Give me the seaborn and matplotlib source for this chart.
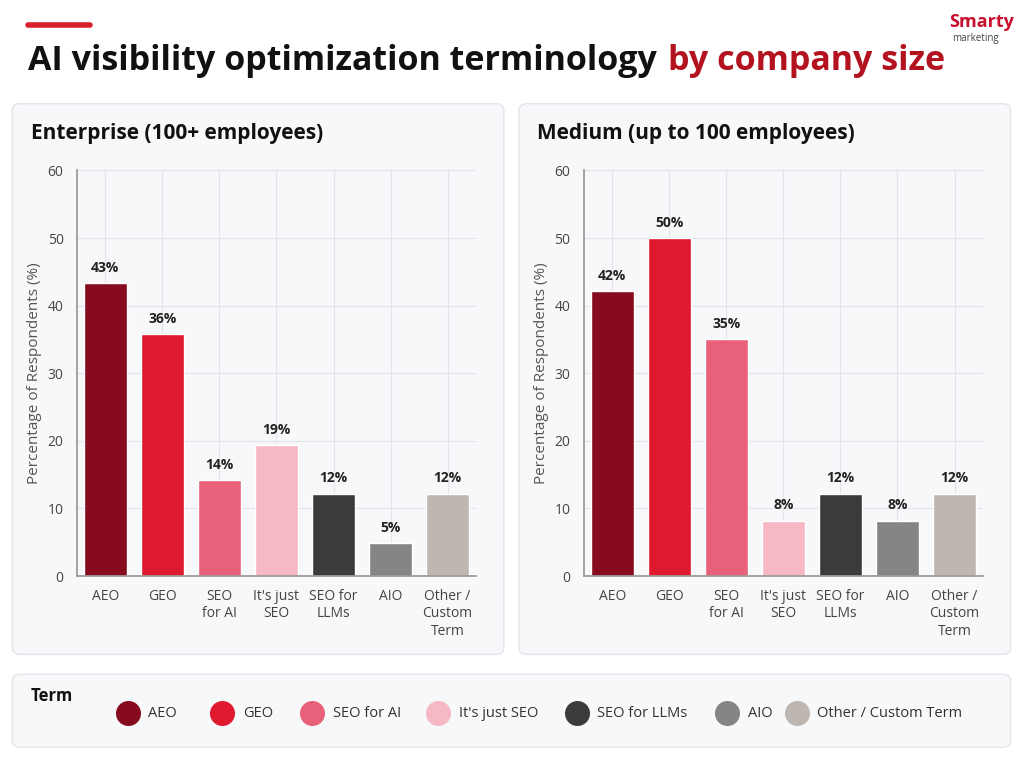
import matplotlib
matplotlib.use("Agg")
import matplotlib.pyplot as plt
import seaborn as sns
import pandas as pd
from matplotlib.patches import FancyBboxPatch

terms = ["AEO", "GEO", "SEO for AI", "It's just SEO", "SEO for LLMs", "AIO", "Other / Custom Term"]
tick_labels = ["AEO", "GEO", "SEO\nfor AI", "It's just\nSEO", "SEO for\nLLMs", "AIO", "Other /\nCustom\nTerm"]
enterprise = [43.3, 35.8, 14.2, 19.4, 12.2, 4.9, 12.2]
enterprise_lbl = ["43%", "36%", "14%", "19%", "12%", "5%", "12%"]
medium = [42.2, 50.0, 35.0, 8.2, 12.2, 8.2, 12.2]
medium_lbl = ["42%", "50%", "35%", "8%", "12%", "8%", "12%"]
colors = ["#870B1F", "#DF1A2E", "#E8607A", "#F6B8C4", "#3B3B3B", "#858585", "#BEB6B0"]

sns.set_theme(style="whitegrid")
plt.rcParams['font.family'] = ['Open Sans', 'DejaVu Sans']

fig = plt.figure(figsize=(10.24, 7.68), dpi=100)
fig.patch.set_facecolor("white")

# header
fig.add_artist(plt.Line2D([0.027, 0.088], [0.967, 0.967], color="#D81F2A", lw=4))
t1 = fig.text(0.027, 0.92, "AI visibility optimization terminology", fontsize=24.5, fontweight="bold",
              color="#111111", va="center")
fig.canvas.draw()
bb = t1.get_window_extent().transformed(fig.transFigure.inverted())
fig.text(bb.x1 + 0.011, 0.92, "by company size", fontsize=24.5, fontweight="bold", color="#B3121F", va="center")
fig.text(0.99, 0.972, "Smarty", fontsize=13, fontweight="bold", color="#C8102E", va="center", ha="right")
fig.text(0.975, 0.950, "marketing", fontsize=7, color="#444444", va="center", ha="right")

# panel backgrounds
for x0 in [0.012, 0.507]:
    fig.add_artist(FancyBboxPatch((x0, 0.148), 0.48, 0.717, boxstyle="round,pad=0,rounding_size=0.008",
                                  transform=fig.transFigure, fc="#F7F8FA", ec="#E3E5EA", lw=1, zorder=-1))
fig.add_artist(FancyBboxPatch((0.012, 0.027), 0.975, 0.095, boxstyle="round,pad=0,rounding_size=0.008",
                              transform=fig.transFigure, fc="#F7F8FA", ec="#E3E5EA", lw=1, zorder=-1))

panels = [("Enterprise (100+ employees)", enterprise, enterprise_lbl, 0.075, 0.03),
          ("Medium (up to 100 employees)", medium, medium_lbl, 0.570, 0.524)]
for title, vals, lbls, ax_x, tx in panels:
    ax = fig.add_axes([ax_x, 0.25, 0.39, 0.528])
    ax.set_facecolor("#F7F8FA")
    df = pd.DataFrame({"term": terms, "pct": vals})
    sns.barplot(data=df, x="term", y="pct", hue="term", palette=colors, legend=False, ax=ax,
                width=0.75, saturation=1)
    for p, t in zip(ax.patches, lbls):
        ax.text(p.get_x() + p.get_width() / 2, p.get_height() + 1.2, t, ha="center", va="bottom",
                fontsize=10, fontweight="bold", color="#222222")
    ax.set_ylim(0, 60)
    ax.set_yticks(range(0, 61, 10))
    ax.set_xticks(range(7))
    ax.set_xticklabels(tick_labels, fontsize=10, color="#444444", va="top")
    ax.tick_params(axis="y", labelsize=10, labelcolor="#444444")
    ax.set_xlabel("")
    ax.set_ylabel("Percentage of Respondents (%)", fontsize=11, color="#555555")
    ax.grid(color="#E2E4E8", lw=0.8)
    ax.xaxis.grid(True)
    for s in ["top", "right"]:
        ax.spines[s].set_visible(False)
    for s in ["left", "bottom"]:
        ax.spines[s].set_color("#999999")
    fig.text(tx, 0.826, title, fontsize=15, fontweight="bold", color="#111111", va="center")

# legend
fig.text(0.03, 0.094, "Term", fontsize=12, fontweight="bold", color="#111111", va="center")
lx = [0.125, 0.217, 0.305, 0.428, 0.563, 0.71, 0.778]
for x, c, t in zip(lx, colors, terms):
    fig.add_artist(plt.Line2D([x], [0.071], marker="o", markersize=17, color=c, transform=fig.transFigure))
    fig.text(x + 0.02, 0.071, t, fontsize=10.5, color="#333333", va="center")

fig.savefig("out.png", dpi=100)
